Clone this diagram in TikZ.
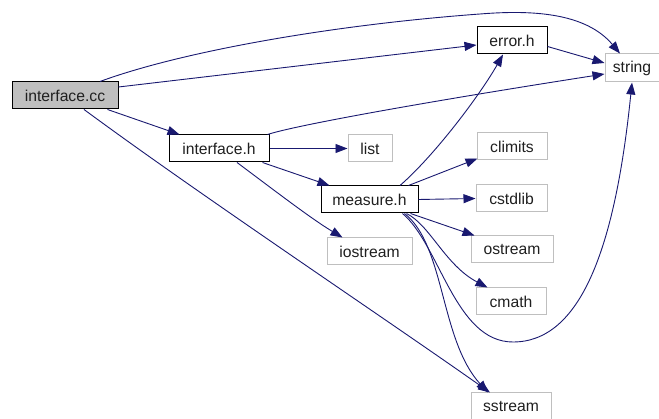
\documentclass[tikz,border=0pt]{standalone}
\usepackage{fontspec}
\setmainfont{Liberation Sans}
\usetikzlibrary{arrows.meta,calc}
\definecolor{edgeblue}{HTML}{191970}
\definecolor{extgray}{HTML}{BFBFBF}
\begin{document}
\begin{tikzpicture}[x=1pt,y=-1pt,
  box/.style={draw=black, line width=1pt, minimum height=27pt, inner sep=0pt,
    font=\fontsize{15.7}{18}\selectfont, text=black!88},
  ext/.style={box, draw=extgray, line width=1pt},
  main/.style={box, fill=extgray},
  dep/.style={draw=edgeblue, line width=0.9pt, -{Triangle[length=12pt,width=9pt]}}]
\useasboundingbox (0,0) rectangle (659,419);

% files
\node[main, minimum width=106pt] (cc)  at (65,95.5)    {interface.cc};
\node[box,  minimum width=100pt] (ih)  at (219,148.5)  {interface.h};
\node[box,  minimum width=70pt]  (err) at (512,40.5)   {error.h};
\node[box,  minimum width=97pt]  (me)  at (369.5,199.5){measure.h};
% system headers
\node[ext, minimum width=54pt, minimum height=28pt] (str) at (632,68) {string};
\node[ext, minimum width=44pt] (lst) at (370,148.5)   {list};
\node[ext, minimum width=70pt] (cl)  at (512,146.5)   {climits};
\node[ext, minimum width=71pt] (cs)  at (511.5,198.5) {cstdlib};
\node[ext, minimum width=85pt] (io)  at (369.5,251.5) {iostream};
\node[ext, minimum width=82pt] (os)  at (512,249.5)   {ostream};
\node[ext, minimum width=70pt] (cm)  at (511,301.5)   {cmath};
\node[ext, minimum width=80pt] (ss)  at (511,406.5)   {sstream};

% interface.cc dependencies
\draw[dep] ($(cc.north)+(35,0)$) .. controls (180,52) and (330,25) .. (480,14)
  .. controls (530,10) and (585,12) .. ($(str.north)+(-12,0)$);
\draw[dep] ($(cc.east)+(0,-8.5)$) -- ($(err.west)+(0,4.5)$);
\draw[dep] ($(cc.south east)+(-11,0)$) -- ($(ih.north west)+(11,0)$);
\draw[dep] ($(cc.south)+(19,0)$) .. controls (200,195) and (380,315) .. ($(ss.north)+(-21,0)$);

% interface.h dependencies
\draw[dep] ($(ih.north east)+(-2,0)$) .. controls (300,124) and (450,98) .. ($(str.west)+(0,6)$);
\draw[dep] (ih.east) -- (lst.west);
\draw[dep] ($(ih.south east)+(-7,0)$) -- ($(me.north west)+(9,0)$);
\draw[dep] ($(ih.south)+(18,0)$) .. controls (270,187) and (310,218) .. ($(io.north west)+(16,0)$);

% error.h dependencies
\draw[dep] ($(err.east)+(0,6)$) -- ($(str.west)+(0,-5)$);

% measure.h dependencies
\draw[dep] ($(me.north)+(30.5,0)$) .. controls (435,155) and (480,95) .. ($(err.south)+(-9,0)$);
\draw[dep] ($(me.north east)+(-10,0)$) -- ($(cl.south west)+(1,-2)$);
\draw[dep] (me.east) -- (cs.west);
\draw[dep] ($(me.south east)+(-8,0)$) -- ($(os.north west)+(4,0)$);
\draw[dep] ($(me.south east)+(-12,0)$) .. controls (430,225) and (445,265) .. ($(cm.north west)+(12,0)$);
\draw[dep] ($(me.south east)+(-16,0)$) .. controls (440,245) and (455,342) .. (513,342)
  .. controls (580,342) and (615,250) .. (str.south);
\draw[dep] ($(me.south east)+(-14,0)$) .. controls (445,245) and (440,340) .. ($(ss.north)+(-23,0)$);
\end{tikzpicture}
\end{document}
